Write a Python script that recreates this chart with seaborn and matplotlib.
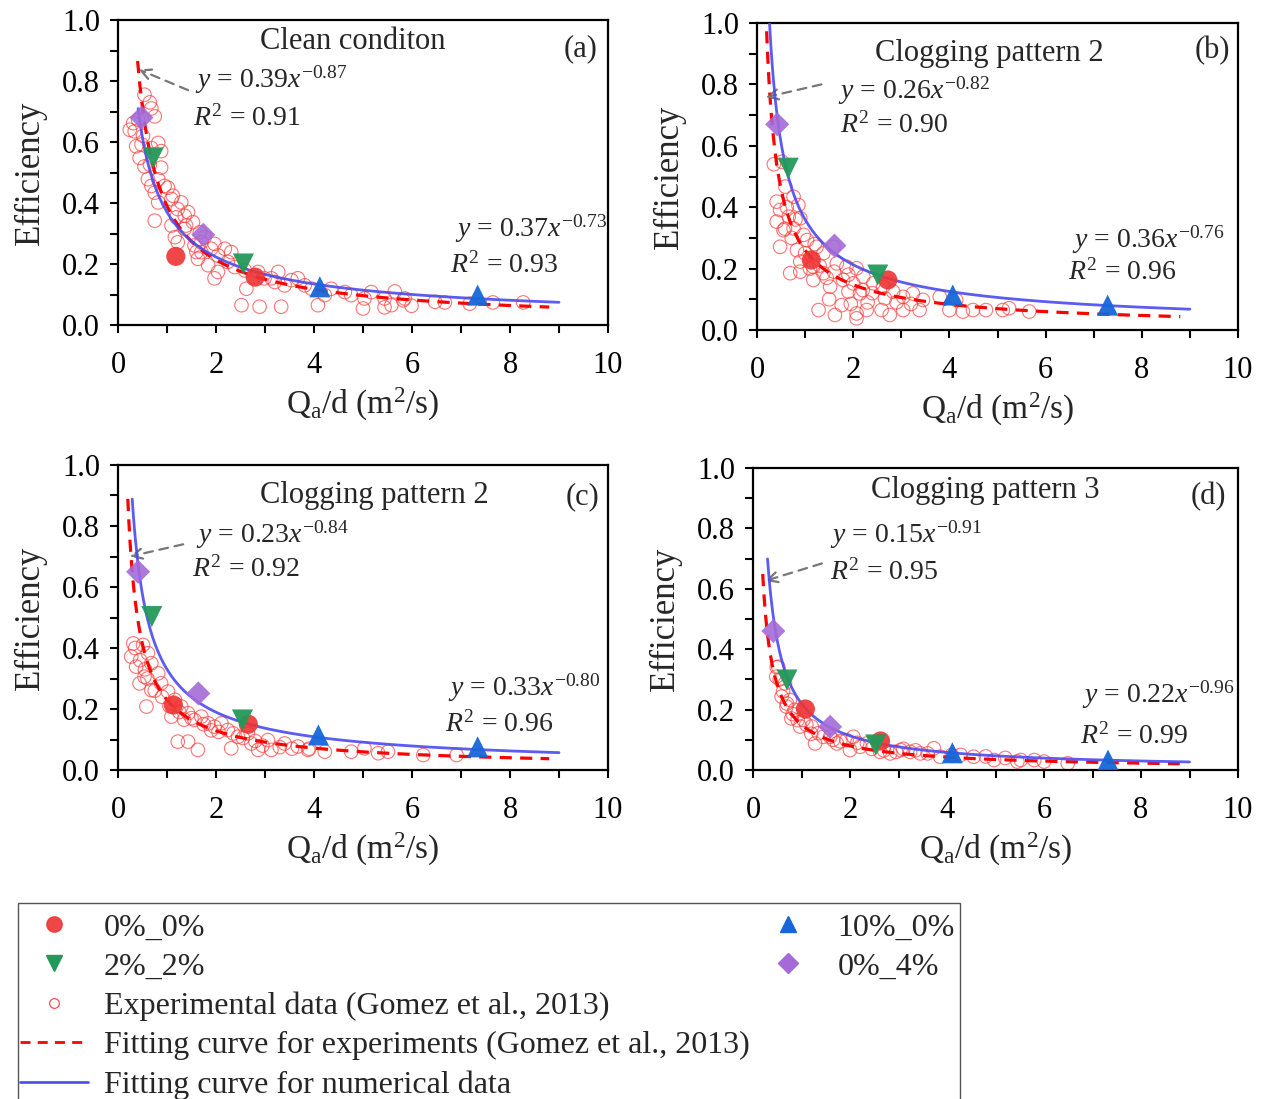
import numpy as np
import matplotlib
matplotlib.use("Agg")
import matplotlib.pyplot as plt
from matplotlib.lines import Line2D
from matplotlib.patches import Rectangle
import seaborn as sns

# ---------------- data ----------------
panel_titles = ["Clean conditon", "Clogging pattern 2", "Clogging pattern 2", "Clogging pattern 3"]
panel_tags = ["(a)", "(b)", "(c)", "(d)"]

# numerical results (x = Qa/d, y = efficiency)
n00_x = [[1.18, 2.80], [1.13, 2.72], [1.13, 2.66], [1.08, 2.63]]
n00_y = [[0.225, 0.157], [0.228, 0.163], [0.213, 0.150], [0.202, 0.096]]
n22_x = [[0.72, 2.56], [0.65, 2.51], [0.69, 2.54], [0.70, 2.53]]
n22_y = [[0.548, 0.200], [0.527, 0.179], [0.503, 0.164], [0.298, 0.083]]
n100_x = [[4.12, 7.34], [4.07, 7.29], [4.09, 7.34], [4.11, 7.32]]
n100_y = [[0.125, 0.098], [0.114, 0.081], [0.115, 0.076], [0.057, 0.033]]
n04_x = [[0.48, 1.74], [0.42, 1.61], [0.41, 1.64], [0.42, 1.59]]
n04_y = [[0.680, 0.296], [0.670, 0.275], [0.650, 0.251], [0.460, 0.143]]

# experimental data (Gomez et al., 2013)
exp_a_x = [0.54, 0.65, 0.68, 0.75, 0.31, 0.34, 0.41, 0.51, 0.48, 0.82, 0.88, 0.44, 0.54, 0.88, 0.61,
           1.02, 0.75, 1.09, 0.82, 1.22, 0.75, 1.36, 1.09, 1.36, 1.53, 1.16, 1.56, 1.22, 1.70, 1.97,
           2.04, 1.63, 2.31, 1.84, 2.04, 1.97, 2.38, 2.86, 3.13, 3.27, 3.40, 3.67, 3.81, 2.52, 2.89,
           3.33, 2.62, 4.22, 4.35, 4.08, 4.63, 5.03, 5.17, 5.00, 5.44, 5.58, 5.85, 5.82, 6.47, 6.67,
           7.18, 7.65, 8.27, 5.44, 5.99, 5.65, 0.24, 0.37, 0.65, 0.68,
           0.95, 1.12, 1.29, 1.43, 1.19, 1.67, 1.77, 1.90, 2.18, 1.60, 2.24, 2.59, 2.99, 3.20, 3.54,
           3.95, 4.76, 1.70, 1.39, 0.82, 0.68]
exp_a_y = [0.755, 0.730, 0.710, 0.684, 0.662, 0.635, 0.673, 0.620, 0.592, 0.597, 0.570, 0.548, 0.520, 0.516, 0.478,
           0.450, 0.434, 0.413, 0.402, 0.380, 0.342, 0.358, 0.326, 0.315, 0.337, 0.288, 0.261, 0.271, 0.239, 0.266,
           0.228, 0.217, 0.239, 0.196, 0.174, 0.153, 0.190, 0.174, 0.153, 0.174, 0.130, 0.153, 0.130, 0.065, 0.060,
           0.060, 0.119, 0.098, 0.119, 0.065, 0.108, 0.087, 0.108, 0.054, 0.087, 0.065, 0.087, 0.081, 0.076, 0.074,
           0.070, 0.074, 0.074, 0.058, 0.063, 0.110, 0.640, 0.586, 0.526, 0.580,
           0.456, 0.424, 0.402, 0.370, 0.353, 0.304, 0.288, 0.250, 0.250, 0.239, 0.207, 0.179, 0.153, 0.141, 0.147,
           0.119, 0.098, 0.271, 0.326, 0.478, 0.456]

exp_b_x = [0.52, 0.59, 0.41, 0.76, 0.86, 0.48, 0.66, 0.41, 0.90, 0.55, 0.76, 0.97, 1.04, 0.48, 0.83,
           1.24, 1.38, 1.59, 0.90, 0.69, 0.90, 1.17, 1.38, 1.66, 1.86, 2.07, 1.17, 1.52, 1.79, 2.00,
           2.21, 2.42, 1.90, 2.14, 2.62, 2.66, 2.83, 3.04, 3.24, 3.45, 3.80, 1.28, 1.62, 1.76, 2.07,
           2.28, 2.07, 2.59, 2.76, 3.04, 3.38, 4.00, 4.28, 4.49, 4.76, 5.11, 5.66, 5.24, 4.14, 0.35,
           0.62, 0.72, 1.00, 1.10, 1.30, 1.45, 1.60, 1.90, 2.20, 2.40, 2.90, 3.20, 2.30, 1.50, 1.95,
           0.80, 1.20, 0.58]
exp_b_y = [0.548, 0.467, 0.418, 0.434, 0.407, 0.391, 0.369, 0.353, 0.364, 0.325, 0.331, 0.310, 0.293, 0.271, 0.260,
           0.271, 0.250, 0.271, 0.223, 0.185, 0.190, 0.206, 0.185, 0.217, 0.206, 0.201, 0.163, 0.141, 0.163, 0.152,
           0.174, 0.152, 0.125, 0.119, 0.141, 0.103, 0.125, 0.108, 0.119, 0.098, 0.108, 0.065, 0.049, 0.081, 0.054,
           0.065, 0.038, 0.065, 0.049, 0.065, 0.065, 0.065, 0.060, 0.065, 0.065, 0.065, 0.060, 0.071, 0.098, 0.540,
           0.400, 0.300, 0.250, 0.200, 0.210, 0.170, 0.190, 0.180, 0.130, 0.120, 0.090, 0.085, 0.090, 0.100, 0.085,
           0.360, 0.280, 0.330]

exp_c_x = [0.31, 0.51, 0.27, 0.61, 0.37, 0.68, 0.82, 0.44, 0.54, 0.88, 1.02, 0.68, 0.58, 1.16, 1.29,
           1.09, 1.43, 1.56, 1.70, 1.84, 1.97, 2.11, 2.24, 1.22, 1.43, 1.63, 2.31, 2.45, 2.65, 2.72,
           2.86, 3.06, 3.13, 3.40, 3.67, 3.88, 4.22, 4.76, 5.03, 5.31, 5.51, 6.23, 6.91,
           0.45, 0.60, 0.75, 0.90, 1.05, 1.25, 1.50, 1.75, 1.90, 2.05, 2.35, 2.55, 2.80, 2.95, 3.30,
           3.55, 3.90, 0.35, 0.55, 1.35]
exp_c_y = [0.415, 0.410, 0.372, 0.383, 0.339, 0.350, 0.317, 0.284, 0.306, 0.284, 0.257, 0.262, 0.208, 0.230, 0.208,
           0.175, 0.186, 0.164, 0.175, 0.153, 0.142, 0.153, 0.131, 0.093, 0.093, 0.066, 0.071, 0.109, 0.120, 0.087,
           0.066, 0.098, 0.066, 0.087, 0.077, 0.066, 0.060, 0.060, 0.071, 0.055, 0.060, 0.049, 0.049,
           0.360, 0.300, 0.260, 0.240, 0.210, 0.190, 0.170, 0.150, 0.130, 0.125, 0.120, 0.105, 0.095, 0.080, 0.075,
           0.070, 0.070, 0.400, 0.330, 0.165]

exp_d_x = [0.52, 0.48, 0.66, 0.59, 0.76, 0.69, 0.86, 0.79, 1.04, 0.97, 1.21, 1.28, 1.35, 1.59, 1.73,
           1.93, 2.07, 2.00, 2.21, 2.35, 2.62, 2.83, 3.04, 3.24, 3.45, 3.73, 3.86, 4.28, 4.55, 4.97,
           5.45, 5.80, 6.00, 6.49, 5.52, 0.49,
           0.55, 0.62, 0.70, 0.82, 0.92, 1.10, 1.20, 1.45, 1.65, 1.80, 2.15, 2.45, 2.70, 2.95, 3.10,
           3.35, 3.60, 4.10, 4.80, 5.20]
exp_d_y = [0.342, 0.309, 0.287, 0.243, 0.232, 0.210, 0.199, 0.171, 0.166, 0.144, 0.144, 0.088, 0.122, 0.110, 0.088,
           0.099, 0.110, 0.066, 0.077, 0.088, 0.060, 0.055, 0.066, 0.060, 0.055, 0.072, 0.044, 0.050, 0.044, 0.033,
           0.028, 0.033, 0.028, 0.022, 0.033, 0.340,
           0.300, 0.260, 0.220, 0.185, 0.165, 0.150, 0.120, 0.110, 0.100, 0.095, 0.090, 0.070, 0.065, 0.060, 0.070,
           0.065, 0.055, 0.050, 0.045, 0.040]

exp_x = [exp_a_x, exp_b_x, exp_c_x, exp_d_x]
exp_y = [exp_a_y, exp_b_y, exp_c_y, exp_d_y]

# fitted power laws y = c * x^p
fit_exp_coef = [0.39, 0.26, 0.23, 0.15]
fit_exp_pow = [-0.87, -0.82, -0.84, -0.91]
fit_exp_r2 = ["0.91", "0.90", "0.92", "0.95"]
fit_exp_xmin = [0.40, 0.20, 0.20, 0.20]
fit_exp_xmax = [8.8, 8.8, 8.8, 8.8]
fit_num_coef = [0.37, 0.36, 0.33, 0.22]
fit_num_pow = [-0.73, -0.76, -0.80, -0.96]
fit_num_r2 = ["0.93", "0.96", "0.96", "0.99"]
fit_num_xmin = [0.41, 0.23, 0.29, 0.30]
fit_num_xmax = [9.0, 9.0, 9.0, 9.0]

# ---------------- style ----------------
sns.set_theme(style="ticks")
plt.rcParams["font.family"] = ["Liberation Serif", "DejaVu Serif"]
plt.rcParams["mathtext.fontset"] = "custom"
plt.rcParams["mathtext.rm"] = "Liberation Serif"
plt.rcParams["mathtext.it"] = "Liberation Serif:italic"
plt.rcParams["mathtext.bf"] = "Liberation Serif:bold"

C_RED = "#EE3333"
C_GREEN = "#22995A"
C_BLUE = "#1666D8"
C_PURPLE = "#A46AD8"
C_EXP = "#FF3A3A"
C_FITN = "#4A4AF2"
C_FITE = "#FF0000"

fig = plt.figure(figsize=(12.68, 10.99), dpi=100)
W, H = 1268.0, 1099.0
boxes = [(118, 608, 20, 325), (757, 1238, 23, 330), (118, 608, 465, 770), (753, 1238, 468, 770)]

title_pos = [(0.48, 0.93), (0.484, 0.90), (0.524, 0.90), (0.478, 0.925)]
tag_pos = [(0.943, 0.905), (0.946, 0.91), (0.947, 0.895), (0.938, 0.904)]
eq1_pos = [(1.57, 0.803), (1.68, 0.78), (1.59, 0.77), (1.59, 0.78)]
r1_pos = [(1.53, 0.679), (1.73, 0.665), (1.51, 0.659), (1.59, 0.656)]
eq2_pos = [(6.88, 0.315), (6.55, 0.293), (6.73, 0.269), (6.78, 0.248)]
r2_pos = [(6.78, 0.197), (6.47, 0.189), (6.67, 0.151), (6.74, 0.113)]
arrow_head = [(0.42, 0.838), (0.18, 0.758), (0.24, 0.70), (0.25, 0.626)]
arrow_tail = [(1.43, 0.77), (1.34, 0.80), (1.33, 0.74), (1.42, 0.684)]

for i, (l, r, t, b) in enumerate(boxes):
    ax = fig.add_axes([l / W, 1 - b / H, (r - l) / W, (b - t) / H])

    # experimental points (open circles)
    sns.scatterplot(x=exp_x[i], y=exp_y[i], ax=ax, marker="o", s=95, zorder=2, legend=False)
    coll = ax.collections[-1]
    coll.set_facecolor("none")
    coll.set_edgecolor(C_EXP)
    coll.set_linewidth(0.8)
    coll.set_alpha(0.7)

    # fitted curves
    xe = np.linspace(fit_exp_xmin[i], fit_exp_xmax[i], 400)
    sns.lineplot(x=xe, y=fit_exp_coef[i] * xe ** fit_exp_pow[i], ax=ax, color=C_FITE,
                 lw=2.3, linestyle=(0, (3.8, 2.6)), zorder=3, legend=False)
    xn = np.linspace(fit_num_xmin[i], fit_num_xmax[i], 400)
    sns.lineplot(x=xn, y=fit_num_coef[i] * xn ** fit_num_pow[i], ax=ax, color=C_FITN,
                 lw=2.0, alpha=0.9, zorder=4, legend=False)

    # numerical points
    sns.scatterplot(x=n00_x[i], y=n00_y[i], ax=ax, marker="o", s=190, color=C_RED,
                    edgecolor="none", alpha=0.9, zorder=5, legend=False)
    sns.scatterplot(x=n22_x[i], y=n22_y[i], ax=ax, marker="v", s=230, color=C_GREEN,
                    edgecolor="none", alpha=0.95, zorder=5, legend=False)
    sns.scatterplot(x=n100_x[i], y=n100_y[i], ax=ax, marker="^", s=230, color=C_BLUE,
                    edgecolor="none", alpha=0.95, zorder=5, legend=False)
    sns.scatterplot(x=n04_x[i], y=n04_y[i], ax=ax, marker="D", s=150, color=C_PURPLE,
                    edgecolor="none", alpha=0.9, zorder=5, legend=False)

    ax.set_xlim(0, 10)
    ax.set_ylim(0, 1.0)
    ax.set_xticks([0, 2, 4, 6, 8, 10])
    ax.set_xticks([1, 3, 5, 7, 9], minor=True)
    ax.set_yticks([0, 0.2, 0.4, 0.6, 0.8, 1.0])
    ax.set_yticks([0.1, 0.3, 0.5, 0.7, 0.9], minor=True)
    ax.set_yticklabels(["0.0", "0.2", "0.4", "0.6", "0.8", "1.0"])
    ax.tick_params(axis="both", which="both", direction="out", length=6, width=1.5,
                   labelsize=22, color="black", labelcolor="black")
    ax.tick_params(axis="x", which="both", pad=13)
    ax.tick_params(axis="y", which="both", pad=7)
    for sp in ax.spines.values():
        sp.set_visible(True)
        sp.set_linewidth(1.6)
        sp.set_color("black")
    ax.set_facecolor("white")
    ax.set_xlabel(r"Q$_{\rm a}$/d (m$^{2}$/s)", fontsize=24, labelpad=4)
    ax.set_ylabel("Efficiency", fontsize=25, labelpad=11)

    ax.text(*title_pos[i], panel_titles[i], transform=ax.transAxes, ha="center", va="center", fontsize=22)
    ax.text(*tag_pos[i], panel_tags[i], transform=ax.transAxes, ha="center", va="center", fontsize=22)

    ax.text(*eq1_pos[i], r"$y$ = %.2f$x^{%.2f}$" % (fit_exp_coef[i], fit_exp_pow[i]),
            ha="left", va="center", fontsize=20)
    ax.text(*r1_pos[i], r"$R^{2}$ = %s" % fit_exp_r2[i], ha="left", va="center", fontsize=20)
    ax.text(*eq2_pos[i], r"$y$ = %.2f$x^{%.2f}$" % (fit_num_coef[i], fit_num_pow[i]),
            ha="left", va="center", fontsize=20)
    ax.text(*r2_pos[i], r"$R^{2}$ = %s" % fit_num_r2[i], ha="left", va="center", fontsize=20)

    ax.annotate("", xy=arrow_head[i], xytext=arrow_tail[i],
                arrowprops=dict(arrowstyle="->", color="#777777", lw=1.6, linestyle=(0, (4, 3)),
                                shrinkA=0, shrinkB=0, mutation_scale=18))

# ---------------- legend ----------------
fig.patches.append(Rectangle((18 / W, 1 - 1110 / H), (960 - 18) / W, (1110 - 903) / H,
                             transform=fig.transFigure, fill=False, edgecolor="#555555",
                             lw=1.0, clip_on=False))
blank = Line2D([], [], ls="none", marker=None)
handles = [
    Line2D([], [], ls="none", marker="o", ms=11, color=C_RED, alpha=0.9),
    Line2D([], [], ls="none", marker="v", ms=12, color=C_GREEN),
    Line2D([], [], ls="none", marker="o", ms=7, mfc="none", mec=C_EXP, mew=0.8),
    Line2D([], [], color=C_FITE, lw=2.0, linestyle=(0, (3.6, 2.6))),
    Line2D([], [], color=C_FITN, lw=1.9),
    Line2D([], [], ls="none", marker="^", ms=12, color=C_BLUE),
    Line2D([], [], ls="none", marker="D", ms=10, color=C_PURPLE),
    blank, blank, blank,
]
labels = ["0%_0%", "2%_2%", "Experimental data (Gomez et al., 2013)",
          "Fitting curve for experiments (Gomez et al., 2013)", "Fitting curve for numerical data",
          "10%_0%", "0%_4%", " ", " ", " "]
fig.legend(handles, labels, ncol=2, loc="upper left", bbox_to_anchor=(20 / W, 1 - 913 / H),
           frameon=False, fontsize=23, handlelength=2.13, handletextpad=0.5, labelspacing=0.31,
           columnspacing=0.12, borderpad=0.0, borderaxespad=0.0)

fig.savefig("out.png", dpi=100, facecolor="white")
